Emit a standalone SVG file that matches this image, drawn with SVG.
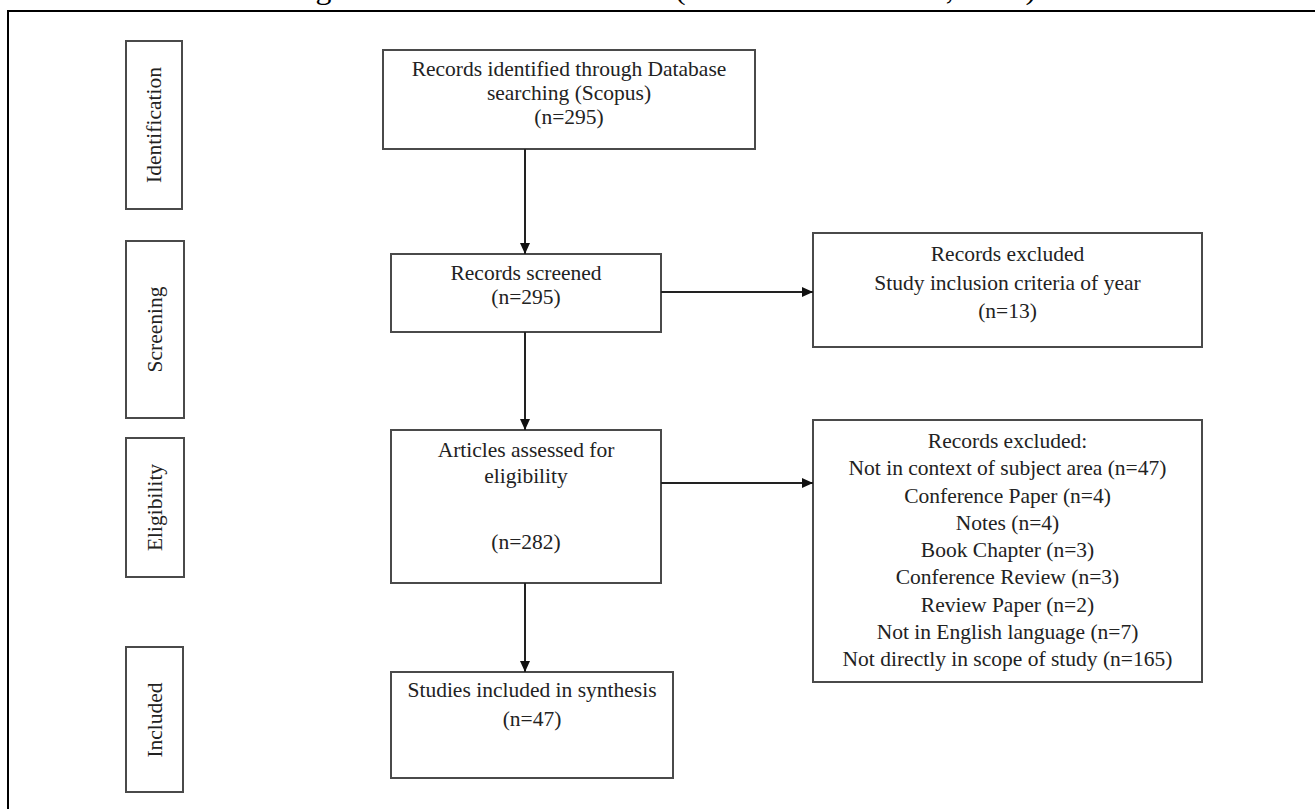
<svg xmlns="http://www.w3.org/2000/svg" width="1315" height="809" viewBox="0 0 1315 809">
<style>
text{font-family:"Liberation Serif","Times New Roman",serif;font-size:21.5px;fill:#222;text-anchor:middle}
.box{fill:#fff;stroke:#4a4a4a;stroke-width:2}
.stage{fill:#fff;stroke:#4a4a4a;stroke-width:2}
.conn{fill:none;stroke:#222;stroke-width:2;marker-end:url(#arr)}
</style>
<defs>
<marker id="arr" markerUnits="userSpaceOnUse" markerWidth="11" markerHeight="10" refX="11" refY="5" orient="auto">
<path d="M0,0 L11,5 L0,10 z" fill="#111"/>
</marker>
</defs>
<rect width="1315" height="809" fill="#fff"/>
<text x="289" y="-1" textLength="747" lengthAdjust="spacingAndGlyphs" style="text-anchor:start;font-size:30px;fill:#000">Figure 1: PRISMA Flowchart (Source: Moher et al., 2009)</text>
<g id="frame">
<path d="M8,809 L8,11 L1315,11" fill="none" stroke="#000" stroke-width="2"/>
</g>
<g id="stage-identification">
<rect class="stage" x="126" y="41" width="56" height="168"/>
<text transform="translate(161,125) rotate(-90)">Identification</text>
</g>
<g id="stage-screening">
<rect class="stage" x="126" y="241" width="58" height="177"/>
<text transform="translate(162,329.5) rotate(-90)">Screening</text>
</g>
<g id="stage-eligibility">
<rect class="stage" x="126" y="438" width="58" height="139"/>
<text transform="translate(162,507.5) rotate(-90)">Eligibility</text>
</g>
<g id="stage-included">
<rect class="stage" x="126" y="647" width="57" height="145"/>
<text transform="translate(162,720) rotate(-90)">Included</text>
</g>
<g id="identified">
<rect class="box" x="383" y="50" width="372" height="99"/>
<text x="569" y="76">Records identified through Database</text>
<text x="569" y="100">searching (Scopus)</text>
<text x="569" y="124">(n=295)</text>
</g>
<g id="screened">
<rect class="box" x="391" y="254" width="270" height="78"/>
<text x="526" y="280">Records screened</text>
<text x="526" y="304">(n=295)</text>
</g>
<g id="excluded-year">
<rect class="box" x="813" y="233" width="389" height="114"/>
<text x="1007.5" y="261">Records excluded</text>
<text x="1007.5" y="290">Study inclusion criteria of year</text>
<text x="1007.5" y="318">(n=13)</text>
</g>
<g id="eligibility">
<rect class="box" x="391" y="430" width="270" height="153"/>
<text x="526" y="457">Articles assessed for</text>
<text x="526" y="483">eligibility</text>
<text x="526" y="549">(n=282)</text>
</g>
<g id="excluded-list">
<rect class="box" x="813" y="420" width="389" height="262"/>
<text x="1007.5" y="448">Records excluded:</text>
<text x="1007.5" y="475">Not in context of subject area (n=47)</text>
<text x="1007.5" y="503">Conference Paper (n=4)</text>
<text x="1007.5" y="530">Notes (n=4)</text>
<text x="1007.5" y="557">Book Chapter (n=3)</text>
<text x="1007.5" y="584">Conference Review (n=3)</text>
<text x="1007.5" y="612">Review Paper (n=2)</text>
<text x="1007.5" y="639">Not in English language (n=7)</text>
<text x="1007.5" y="666">Not directly in scope of study (n=165)</text>
</g>
<g id="included">
<rect class="box" x="391" y="672" width="282" height="106"/>
<text x="532" y="697">Studies included in synthesis</text>
<text x="532" y="726">(n=47)</text>
</g>
<g id="connectors">
<line class="conn" x1="525" y1="149" x2="525" y2="254"/>
<line class="conn" x1="661" y1="292" x2="813" y2="292"/>
<line class="conn" x1="525" y1="332" x2="525" y2="430"/>
<line class="conn" x1="661" y1="483" x2="813" y2="483"/>
<line class="conn" x1="525" y1="583" x2="525" y2="672"/>
</g>
</svg>
